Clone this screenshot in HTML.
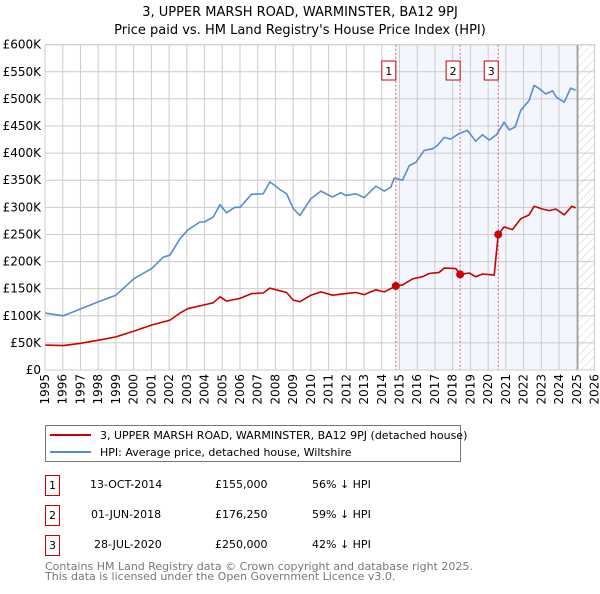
<!DOCTYPE html>
<html><head><meta charset="utf-8"><style>
body{margin:0;background:#fff;width:600px;height:590px;overflow:hidden;font-family:"DejaVu Sans","Liberation Sans",sans-serif}
svg text{font-family:"DejaVu Sans","Liberation Sans",sans-serif}
</style></head><body>
<svg id="c" width="600" height="590" xmlns="http://www.w3.org/2000/svg">
<defs><pattern id="hatch" width="6" height="6" patternUnits="userSpaceOnUse" patternTransform="rotate(45)"><line x1="0" y1="0" x2="0" y2="6" stroke="#ccc" stroke-width="1"/></pattern></defs>
<text x="300" y="16" text-anchor="middle" font-size="13" fill="#000">3, UPPER MARSH ROAD, WARMINSTER, BA12 9PJ</text>
<text x="300" y="34" text-anchor="middle" font-size="13" fill="#000">Price paid vs. HM Land Registry's House Price Index (HPI)</text>
<g id="plot"></g>
<g>
<rect x="45.5" y="425.5" width="415" height="36" fill="#fff" stroke="#777"/>
<line x1="50" y1="435" x2="91" y2="435" stroke="#cc0000" stroke-width="2"/>
<text x="100" y="439" font-size="11">3, UPPER MARSH ROAD, WARMINSTER, BA12 9PJ (detached house)</text>
<line x1="50" y1="452" x2="91" y2="452" stroke="#5b8bd0" stroke-width="2"/>
<text x="100" y="456" font-size="11">HPI: Average price, detached house, Wiltshire</text>
</g>
<g font-size="11">
<rect x="45.5" y="475.5" width="14" height="20" fill="none" stroke="#cc0000"/><text x="52.5" y="489" text-anchor="middle">1</text>
<text x="90" y="488">13-OCT-2014</text><text x="215" y="488">£155,000</text><text x="312" y="488">56% ↓ HPI</text>
<rect x="45.5" y="505.5" width="14" height="20" fill="none" stroke="#cc0000"/><text x="52.5" y="519" text-anchor="middle">2</text>
<text x="91" y="518">01-JUN-2018</text><text x="215" y="518">£176,250</text><text x="312" y="518">59% ↓ HPI</text>
<rect x="45.5" y="535.5" width="14" height="20" fill="none" stroke="#cc0000"/><text x="52.5" y="549" text-anchor="middle">3</text>
<text x="94" y="548">28-JUL-2020</text><text x="215" y="548">£250,000</text><text x="312" y="548">42% ↓ HPI</text>
</g>
<text x="45" y="570" font-size="11" fill="#777">Contains HM Land Registry data © Crown copyright and database right 2025.</text>
<text x="45" y="580" font-size="11" fill="#777">This data is licensed under the Open Government Licence v3.0.</text>
</svg>
<script>
const hpiYears=[1995.0,1996.03,1996.97,1998.01,1999.0,2000.04,2001.02,2001.67,2002.05,2002.61,2003.05,2003.74,2003.98,2004.49,2004.87,2005.24,2005.71,2006.0,2006.65,2007.31,2007.69,2008.25,2008.63,2009.0,2009.38,2010.0,2010.56,2011.22,2011.69,2011.97,2012.54,2013.01,2013.67,2014.14,2014.51,2014.7,2015.17,2015.55,2015.92,2016.39,2016.86,2017.14,2017.52,2017.89,2018.36,2018.83,2019.3,2019.68,2020.06,2020.47,2020.9,2021.18,2021.52,2021.84,2022.31,2022.59,2022.88,2023.25,2023.63,2023.86,2024.29,2024.66,2024.94];
const hpiValues=[105,100,112,126,138,169,187,208,212,242,258,273,273,282,305,290,300,300,324,325,347,333,325,298,285,316,330,319,327,322,325,318,339,330,337,354,350,377,383,405,408,414,429,426,436,442,422,434,424,434,457,443,448,479,497,525,519,509,515,503,494,520,516];
const ppYears=[1995.0,1996.03,1996.97,1998.01,1999.0,2000.04,2001.02,2002.05,2002.61,2003.05,2003.98,2004.49,2004.87,2005.24,2006.0,2006.65,2007.31,2007.69,2008.25,2008.63,2009.0,2009.38,2010.0,2010.56,2011.22,2011.97,2012.54,2013.01,2013.67,2014.14,2014.79,2015.17,2015.73,2016.3,2016.67,2017.24,2017.52,2018.18,2018.42,2018.93,2019.3,2019.68,2020.34,2020.57,2020.9,2021.37,2021.84,2022.31,2022.59,2023.06,2023.44,2023.82,2024.29,2024.72,2024.94];
const ppValues=[46,45,49,55,61,72,83,92,105,113,120,124,135,127,132,141,142,151,146,143,129,126,138,144,138,141,143,139,148,144,155,157,168,172,178,180,188,187,176.25,179,172,177,175,250,264,259,279,286,302,297,294,297,286,302,299];
const saleYears=[2014.79,2018.42,2020.57];
const saleValues=[155,176.25,250];
const saleLabels=["1","2","3"];
const yTicks=[0,50,100,150,200,250,300,350,400,450,500,550,600];
const yTickLabels=["£0","£50K","£100K","£150K","£200K","£250K","£300K","£350K","£400K","£450K","£500K","£550K","£600K"];
const xTicks=[1995,1996,1997,1998,1999,2000,2001,2002,2003,2004,2005,2006,2007,2008,2009,2010,2011,2012,2013,2014,2015,2016,2017,2018,2019,2020,2021,2022,2023,2024,2025,2026];
const dataEnd=2025.05;

const X0=45,X1=594.5,Y0=370,Y1=44.7;
const xs=y=>X0+(y-1995)/(2026-1995)*(X1-X0);
const ys=v=>Y0-v/600*(Y0-Y1);
const NS="http://www.w3.org/2000/svg";
const g=document.getElementById('plot');
function mk(t,a,p){const e=document.createElementNS(NS,t);for(const k in a)e.setAttribute(k,a[k]);(p||g).appendChild(e);return e;}
const sh=mk('rect',{x:xs(saleYears[0]),y:Y1,width:xs(dataEnd)-xs(saleYears[0]),height:Y0-Y1,fill:'#eef3fc',opacity:0.7});


const ht=mk('rect',{x:xs(dataEnd),y:Y1,width:X1-xs(dataEnd),height:Y0-Y1,fill:'url(#hatch)'});


yTicks.forEach((v,i)=>{
  const l=mk('line',{x1:X0,x2:X1,y1:ys(v),y2:ys(v),stroke:'#ccc','stroke-width':1});
  
  
  const t=mk('text',{x:X0-4,y:ys(v)+4,'text-anchor':'end','font-size':12,fill:'#000'});
  t.textContent=yTickLabels[i];
  
  
});
xTicks.forEach(y=>{
  const l=mk('line',{x1:xs(y),x2:xs(y),y1:Y1,y2:Y0,stroke:'#ccc','stroke-width':1});
  
  
  const tx=xs(y)+4, ty=Y0+4;
  const t=mk('text',{x:tx,y:ty,'text-anchor':'end','font-size':12,fill:'#000',transform:'rotate(-90 '+tx+' '+ty+')'});
  t.textContent=y;
  
  
});
const de=mk('line',{x1:xs(dataEnd),x2:xs(dataEnd),y1:Y1,y2:Y0,stroke:'#999','stroke-width':1.5});


saleYears.forEach((y,i)=>{
  const l=mk('line',{x1:xs(y),x2:xs(y),y1:Y1,y2:Y0,stroke:'#e06060','stroke-width':1,'stroke-dasharray':'2,2'});
  
  
  const r=mk('rect',{x:xs(y)-14,y:61,width:14,height:19,fill:'#fff',stroke:'#cc0000'});
  
  
  const t=mk('text',{x:xs(y)-7,y:75,'text-anchor':'middle','font-size':11});
  t.textContent=saleLabels[i];
  
  
});
const pts=(a,b)=>a.map((y,i)=>xs(y).toFixed(1)+','+ys(b[i]).toFixed(1)).join(' ');
const hl=mk('polyline',{points:pts(hpiYears,hpiValues),fill:'none',stroke:'#5b8bd0','stroke-width':1.6,'stroke-linejoin':'round'});


const pl=mk('polyline',{points:pts(ppYears,ppValues),fill:'none',stroke:'#cc0000','stroke-width':1.6,'stroke-linejoin':'round'});


saleYears.forEach((y,i)=>{
  const c=mk('circle',{cx:xs(y),cy:ys(saleValues[i]),r:4,fill:'#cc0000'});
  
  
});
const fr=mk('rect',{x:X0,y:Y1,width:X1-X0,height:Y0-Y1,fill:'none',stroke:'#ccc'});


</script>
</body></html>
